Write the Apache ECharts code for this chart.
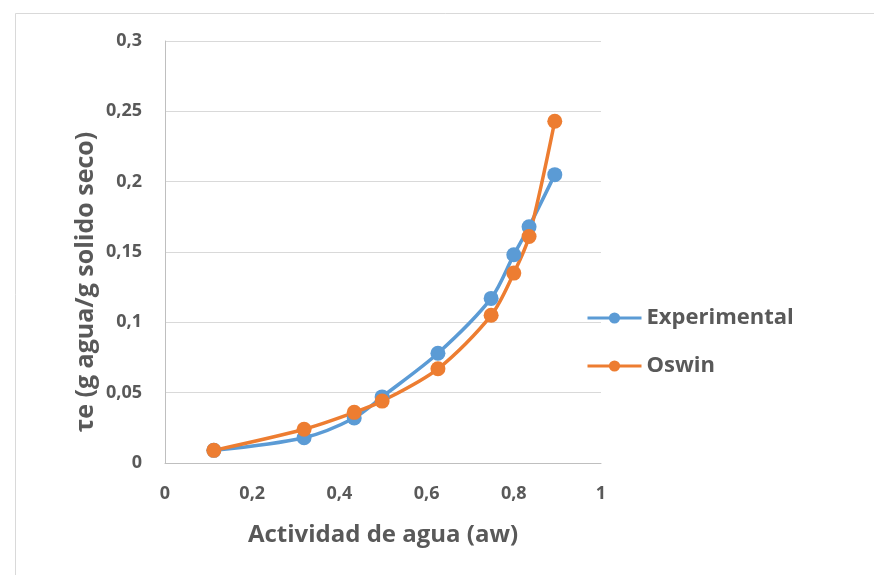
<!DOCTYPE html>
<html>
<head>
<meta charset="utf-8">
<script src="https://cdn.jsdelivr.net/npm/echarts@6/dist/echarts.min.js"></script>
<style>html,body{margin:0;padding:0;background:#fff;}#c{width:874px;height:575px;}</style>
</head>
<body>
<div id="c"></div>
<script>
var aw = [0.112, 0.319, 0.434, 0.498, 0.626, 0.748, 0.800, 0.835, 0.894];
var experimental = [0.009, 0.018, 0.032, 0.047, 0.078, 0.117, 0.148, 0.168, 0.205];
var oswin = [0.009, 0.024, 0.036, 0.044, 0.067, 0.105, 0.135, 0.161, 0.243];
var seriesNames = ['Experimental', 'Oswin'];
var xTitle = 'Actividad de agua (aw)';
var yTitle = 'τe (g agua/g solido seco)';

function pairs(xs, ys) { return xs.map(function (x, i) { return [x, ys[i]]; }); }
function comma(v) { return String(+v.toFixed(3)).replace('.', ','); }

var font = 'Open Sans';
var chart = echarts.init(document.getElementById('c'), null, {renderer: 'canvas'});
chart.setOption({
  backgroundColor: '#fff',
  animation: false,
  graphic: [{
    type: 'rect', left: 13, top: 11,
    shape: {width: 900, height: 600},
    style: {fill: 'none', stroke: '#d9d9d9', lineWidth: 1}, silent: true
  }],
  grid: {left: 165, right: 273, top: 41, bottom: 112},
  legend: {
    orient: 'vertical', left: 581, top: 302, itemGap: 26,
    itemWidth: 54, itemHeight: 14,
    lineStyle: {width: 3},
    textStyle: {fontFamily: font, fontWeight: 'bold', fontSize: 22, color: '#595959'},
    data: seriesNames
  },
  xAxis: {
    type: 'value', min: 0, max: 1, interval: 0.2,
    name: xTitle, nameLocation: 'middle', nameGap: 60,
    nameTextStyle: {fontFamily: font, fontWeight: 'bold', fontSize: 24, color: '#595959'},
    axisLine: {show: true, lineStyle: {color: '#bfbfbf', width: 1}},
    axisTick: {show: false},
    splitLine: {show: false},
    axisLabel: {margin: 22, fontFamily: font, fontWeight: 'bold', fontSize: 18, color: '#595959', formatter: comma}
  },
  yAxis: {
    type: 'value', min: 0, max: 0.3, interval: 0.05,
    name: '{t|' + yTitle + '}{s|}', nameLocation: 'middle', nameGap: 67,
    nameTextStyle: {
      rich: {
        t: {fontFamily: font, fontWeight: 'bold', fontSize: 25, color: '#595959'},
        s: {width: 60, height: 1}
      }
    },
    axisLine: {show: true, lineStyle: {color: '#bfbfbf', width: 1}},
    axisTick: {show: false},
    splitLine: {show: true, lineStyle: {color: '#d9d9d9', width: 1}},
    axisLabel: {margin: 23, fontFamily: font, fontWeight: 'bold', fontSize: 18, color: '#595959', formatter: comma}
  },
  series: [{
    name: seriesNames[0], type: 'line', smooth: 0.3,
    data: pairs(aw, experimental),
    symbol: 'circle', symbolSize: 15,
    lineStyle: {color: '#5b9bd5', width: 3.5},
    itemStyle: {color: '#5b9bd5'}
  }, {
    name: seriesNames[1], type: 'line', smooth: 0.3,
    data: pairs(aw, oswin),
    symbol: 'circle', symbolSize: 15,
    lineStyle: {color: '#ed7d31', width: 3.5},
    itemStyle: {color: '#ed7d31'}
  }]
});
</script>
</body>
</html>
